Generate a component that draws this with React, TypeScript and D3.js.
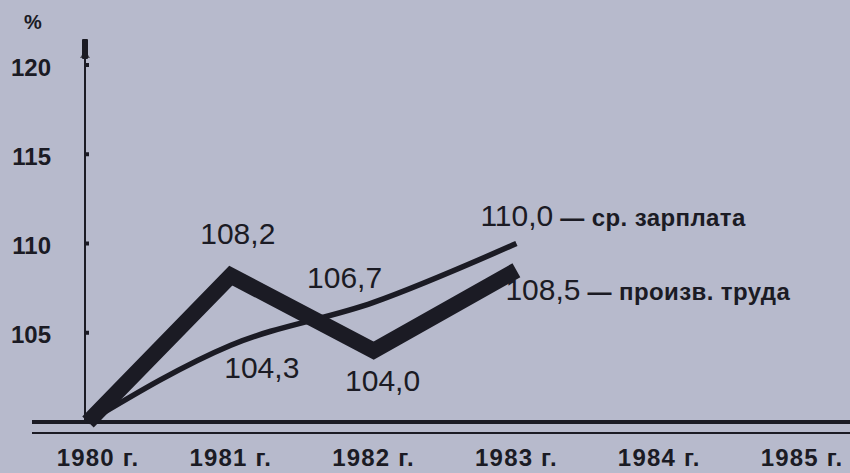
import * as d3 from "d3";

// годы и значения, %
const years = [1980, 1981, 1982, 1983, 1984, 1985];
const yearLabels = ["1980 г.", "1981 г.", "1982 г.", "1983 г.", "1984 г.", "1985 г."];
const dataYears = [1980, 1981, 1982, 1983];
const productivity = [100, 108.2, 104.0, 108.5]; // произв. труда (толстая)
const wages = [100, 104.3, 106.7, 110.0]; // ср. зарплата (тонкая)
const yTicks = [105, 110, 115, 120];
const productivityLabels = ["", "108,2", "104,0", "108,5"];
const wageLabels = ["", "104,3", "106,7", "110,0"];

const W = 850;
const H = 473;
const ink = "#1b1b24";
const bg = "#b7bacc";

const App = () => {
  const x = d3.scaleLinear().domain([1980, 1985]).range([88, 802]);
  const y = d3.scaleLinear().domain([100, 120]).range([422, 65]);

  const thick = d3
    .line<number>()
    .x((d, i) => x(dataYears[i]))
    .y((d) => y(d));
  const thin = d3
    .line<number>()
    .x((d, i) => x(dataYears[i]))
    .y((d) => y(d))
    .curve(d3.curveMonotoneX);

  const font = "'Liberation Sans', Arial, Helvetica, sans-serif";

  // смещения подписей от точек
  const pOff = [null, [7, -32, "middle"], [9, 40, "middle"], [-11, 30, "start"]];
  const wOff = [null, [31, 33, "middle"], [-29, -14, "middle"], [-36, -18, "start"]];

  return (
    <svg
      width={W}
      height={H}
      style={{ position: "absolute", left: 0, top: 0, background: bg }}
      fontFamily={font}
    >
      <rect width={W} height={H} fill={bg} />

      {/* ось Y со стрелкой */}
      <line x1={85} x2={85} y1={58} y2={422} stroke={ink} strokeWidth={2} />
      <rect x={82} y={39} width={6} height={20} fill={ink} rx={1} />
      <path d="M80,58 L85,50 L90,58 Z" fill={ink} opacity={0.7} />
      <text x={33} y={29} fontSize={20} fontWeight="bold" fill={ink} textAnchor="middle">
        %
      </text>
      {yTicks.map((t) => (
        <g key={t}>
          <rect x={85} y={y(t) - 2} width={4} height={4} fill={ink} />
          <text
            x={51}
            y={y(t) + 2}
            dy="0.36em"
            fontSize={24}
            fontWeight="bold"
            fill={ink}
            textAnchor="end"
          >
            {t}
          </text>
        </g>
      ))}

      {/* базовые линии */}
      <line x1={32} x2={W} y1={y(100)} y2={y(100)} stroke={ink} strokeWidth={4} />
      <line x1={32} x2={W} y1={433} y2={433} stroke={ink} strokeWidth={2} />

      {years.map((yr, i) => (
        <text
          key={yr}
          x={i === 0 ? x(yr) + 10 : x(yr)}
          y={466}
          fontSize={24}
          fontWeight="bold"
          letterSpacing="1.2"
          fill={ink}
          textAnchor="middle"
        >
          {yearLabels[i]}
        </text>
      ))}

      {/* линии */}
      <path
        d={thin(wages)}
        fill="none"
        stroke={ink}
        strokeWidth={5.5}
        strokeLinecap="butt"
      />
      <path
        d={thick(productivity)}
        fill="none"
        stroke={ink}
        strokeWidth={16}
        strokeLinejoin="miter"
        strokeLinecap="butt"
      />

      {/* подписи значений */}
      {productivity.map((v, i) =>
        pOff[i] ? (
          <text
            key={"p" + i}
            x={x(dataYears[i]) + pOff[i][0]}
            y={y(v) + pOff[i][1]}
            fontSize={30}
            fill={ink}
            textAnchor={pOff[i][2]}
          >
            {productivityLabels[i]}
            {i === 3 ? (
              <tspan fontSize={24} fontWeight="bold" letterSpacing="0.4">
                {" — произв. труда"}
              </tspan>
            ) : null}
          </text>
        ) : null
      )}
      {wages.map((v, i) =>
        wOff[i] ? (
          <text
            key={"w" + i}
            x={x(dataYears[i]) + wOff[i][0]}
            y={y(v) + wOff[i][1]}
            fontSize={30}
            fill={ink}
            textAnchor={wOff[i][2]}
          >
            {wageLabels[i]}
            {i === 3 ? (
              <tspan fontSize={24} fontWeight="bold" letterSpacing="0.4">
                {" — ср. зарплата"}
              </tspan>
            ) : null}
          </text>
        ) : null
      )}
    </svg>
  );
};

export default App;
